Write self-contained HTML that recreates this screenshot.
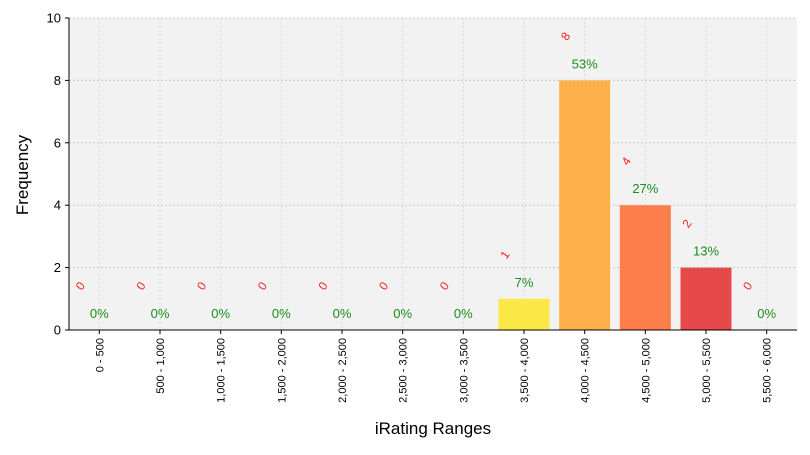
<!DOCTYPE html>
<html><head><meta charset="utf-8"><style>
body{margin:0;background:#fff;font-family:"Liberation Sans",sans-serif;}
</style></head><body>
<svg id="chart" width="810" height="450" xmlns="http://www.w3.org/2000/svg" font-family="Liberation Sans, sans-serif">
<rect x="69" y="18" width="728" height="312" fill="#f2f2f2"/>
<g id="grid"></g><g id="bars"></g><g id="labels"></g><g id="axes"></g>
<text x="433" y="434" text-anchor="middle" font-size="17" fill="#000">iRating Ranges</text>
<text transform="translate(28,175) rotate(-90)" text-anchor="middle" font-size="17" fill="#000">Frequency</text>
</svg>
<script>
const categories=["0 - 500","500 - 1,000","1,000 - 1,500","1,500 - 2,000","2,000 - 2,500","2,500 - 3,000","3,000 - 3,500","3,500 - 4,000","4,000 - 4,500","4,500 - 5,000","5,000 - 5,500","5,500 - 6,000"];
const counts=[0,0,0,0,0,0,0,1,8,4,2,0];
const percents=["0%","0%","0%","0%","0%","0%","0%","7%","53%","27%","13%","0%"];
const colors=["#fbe847","#fbe847","#fbe847","#fbe847","#fbe847","#fbe847","#fbe847","#fbe847","#fbb04a","#fd7e4a","#e5494a","#e5494a"];
const yTicks=[0,2,4,6,8,10];
const NS="http://www.w3.org/2000/svg";
const X0=69,X1=797,Y0=330,Y1=18,YMAX=10;
const step=(X1-X0)/categories.length;
const xc=i=>X0+step*(i+0.5);
const y=v=>Y0-(v/YMAX)*(Y0-Y1);
function mk(tag,attrs,parent){const e=document.createElementNS(NS,tag);for(const k in attrs)e.setAttribute(k,attrs[k]);document.getElementById(parent).appendChild(e);return e;}
yTicks.forEach(t=>{
 const l=mk("line",{x1:X0,x2:X1,y1:y(t),y2:y(t),stroke:"#c8c8c8","stroke-dasharray":"2,2","stroke-width":1},"grid");
 
 
 const tk=mk("line",{x1:X0-4,x2:X0,y1:y(t),y2:y(t),stroke:"#000"},"axes");
 
 
 const tx=mk("text",{x:X0-8,y:y(t)+4.5,"text-anchor":"end","font-size":13,fill:"#000"},"axes");
 tx.textContent=t;
 
 
});
categories.forEach((c,i)=>{
 const g=mk("line",{x1:xc(i),x2:xc(i),y1:Y1,y2:Y0,stroke:"#dcdcdc","stroke-dasharray":"2,2"},"grid");
 
 
 const bw=51;
 if(counts[i]>0){
  const b=mk("rect",{x:xc(i)-bw/2,y:y(counts[i]),width:bw,height:Y0-y(counts[i]),fill:colors[i]},"bars");
  
  
 }
 const p=mk("text",{x:xc(i),y:y(counts[i])-12,"text-anchor":"middle","font-size":13,fill:"#1a8c1a"},"labels");
 p.textContent=percents[i];
 
 
 const cx=xc(i)-19,cy=y(counts[i])-40;
 const ct=mk("text",{x:cx,y:cy,"text-anchor":"middle","font-size":12,fill:"#ff2020",transform:`rotate(-55 ${cx} ${cy-4})`},"labels");
 ct.textContent=counts[i];
 
 
 const tk=mk("line",{x1:xc(i),x2:xc(i),y1:Y0,y2:Y0+4,stroke:"#000"},"axes");
 
 
 const tx=mk("text",{x:0,y:0,"text-anchor":"end","font-size":11,fill:"#000",transform:`translate(${xc(i)+4},${Y0+8}) rotate(-90)`},"axes");
 tx.textContent=c;
 
 
});
const ax=mk("line",{x1:X0,x2:X0,y1:Y1,y2:Y0,stroke:"#000"},"axes");


const bx=mk("line",{x1:X0,x2:X1,y1:Y0,y2:Y0,stroke:"#000"},"axes");


</script>
</body></html>
